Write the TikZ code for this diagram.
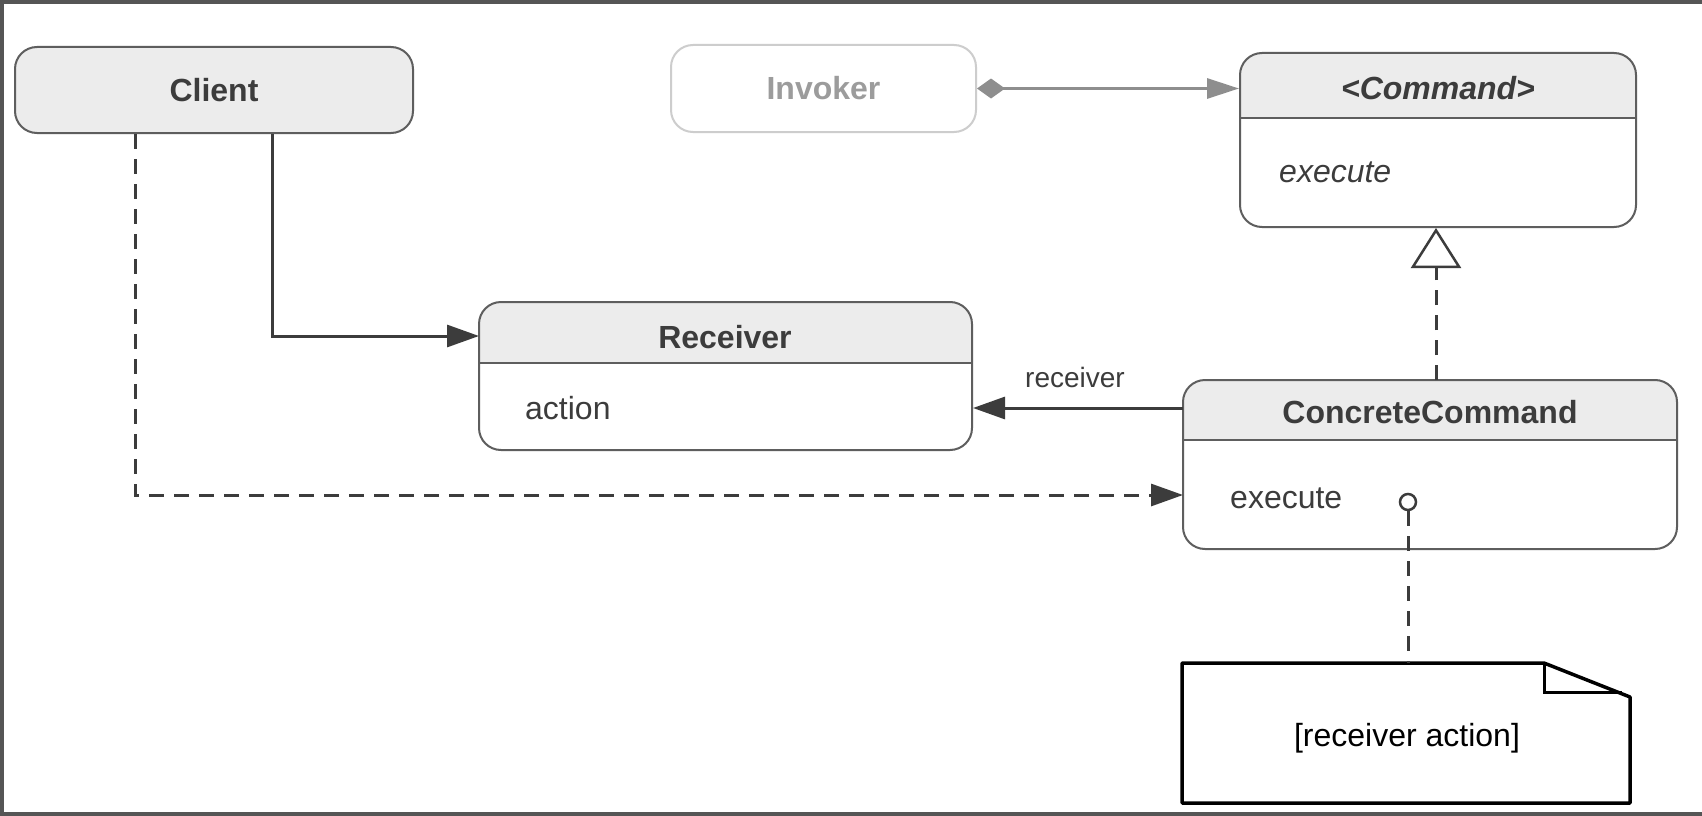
\documentclass[tikz,border=0pt]{standalone}
\usepackage{fontspec}
\setmainfont{Liberation Sans}
\usetikzlibrary{arrows.meta}
\definecolor{ln}{HTML}{3C3C3C}
\definecolor{bx}{HTML}{5E5E5E}
\definecolor{hdr}{HTML}{ECECEC}
\definecolor{inv}{HTML}{CDCDCD}
\definecolor{invtxt}{HTML}{9C9C9C}
\definecolor{invln}{HTML}{8E8E8E}
\definecolor{frm}{HTML}{555555}
\begin{document}
\begin{tikzpicture}[x=1pt,y=-1pt,
  box/.style={draw=bx, line width=2pt, rounded corners=22pt, inner sep=0pt},
  namefont/.style={font=\fontsize{32}{38}\selectfont\bfseries, text=ln},
  opfont/.style={font=\fontsize{32}{38}\selectfont, text=ln, anchor=west, inner sep=0pt},
  divider/.style={draw=bx, line width=2pt},
  conn/.style={draw=ln, line width=3pt},
  dashedconn/.style={conn, dash pattern=on 15pt off 10pt},
  filltip/.style={-{Triangle[length=32pt,width=22pt]}}
]
\useasboundingbox (0,0) rectangle (1702,816);
\fill[white] (0,0) rectangle (1702,816);
% frame
\draw[frm, line width=4pt] (1702,2) -- (2,2) -- (2,814) -- (1702,814);

% header fills
\begin{scope}
  \clip[rounded corners=22pt] (1240,53) rectangle (1636,227);
  \fill[hdr] (1240,53) rectangle (1636,118);
\end{scope}
\begin{scope}
  \clip[rounded corners=22pt] (479,302) rectangle (972,450);
  \fill[hdr] (479,302) rectangle (972,363);
\end{scope}
\begin{scope}
  \clip[rounded corners=22pt] (1183,380) rectangle (1677,549);
  \fill[hdr] (1183,380) rectangle (1677,440);
\end{scope}

% Client
\node[box, fill=hdr, minimum width=398pt, minimum height=86pt, namefont] (client) at (214,90) {Client};
% Invoker
\node[box, draw=inv, fill=white, minimum width=305pt, minimum height=87pt, namefont, text=invtxt] (invoker) at (823.5,88.5) {Invoker};
% Command
\node[box, minimum width=396pt, minimum height=174pt] (cmd) at (1438,140) {};
\draw[divider] (1240,118) -- (1636,118);
\node[namefont, font=\fontsize{32}{38}\selectfont\bfseries\itshape] (cmdname) at (1438,88) {<Command>};
\node[opfont, font=\fontsize{32}{38}\selectfont\itshape] (cmdexec) at (1279,172) {execute};
% Receiver
\node[box, minimum width=493pt, minimum height=148pt] (recv) at (725.5,376) {};
\draw[divider] (479,363) -- (972,363);
\node[namefont] (recvname) at (725,337) {Receiver};
\node[opfont] (recvaction) at (525,408) {action};
% ConcreteCommand
\node[box, minimum width=494pt, minimum height=169pt] (cc) at (1430,464.5) {};
\draw[divider] (1183,440) -- (1677,440);
\node[namefont] (ccname) at (1430,412) {ConcreteCommand};
\node[opfont] (ccexec) at (1230,498) {execute};
\node[circle, draw=ln, line width=2.5pt, fill=white, minimum size=16pt, inner sep=0pt] (dot) at (1408,502) {};
% Note
\node[minimum width=448pt, minimum height=140pt, inner sep=0pt] (note) at (1406,733) {};
\draw[black, line width=3.5pt, line join=round] (1182,663) -- (1544,663) -- (1630,697) -- (1630,803) -- (1182,803) -- cycle;
\draw[black, line width=3pt] (1544,663) -- (1544,692) -- (1622,692);
\node[font=\fontsize{32}{38}\selectfont, text=black] (notetext) at (1407,738) {[receiver action]};

% connectors
\coordinate (recvin) at (479,336);
\coordinate (ccin) at (1183,495);
\coordinate (ccout) at (1183,408);
\coordinate (gen) at (1436,380);

\draw[line width=3pt, draw=invln, {Diamond[length=28pt,width=20pt,fill=invln]}-{Triangle[length=32pt,width=20pt,fill=invln]}]
  (invoker.east) -- (invoker.east -| cmd.west);
\draw[dashedconn, -{Triangle[open, length=40pt, width=50pt, fill=white, line width=2.5pt]}]
  (gen) -- (gen |- cmd.south);
\draw[conn, filltip] ([xshift=58pt]client.south) |- (recvin);
\draw[dashedconn, filltip] ([xshift=-79pt]client.south) |- (ccin);
\draw[conn, filltip] (ccout) -- (ccout -| recv.east);
\node[font=\fontsize{28}{34}\selectfont, text=ln] (rlabel) at (1075,377) {receiver};
\draw[dashedconn] (dot.south) -- (dot.south |- note.north);
\end{tikzpicture}
\end{document}
